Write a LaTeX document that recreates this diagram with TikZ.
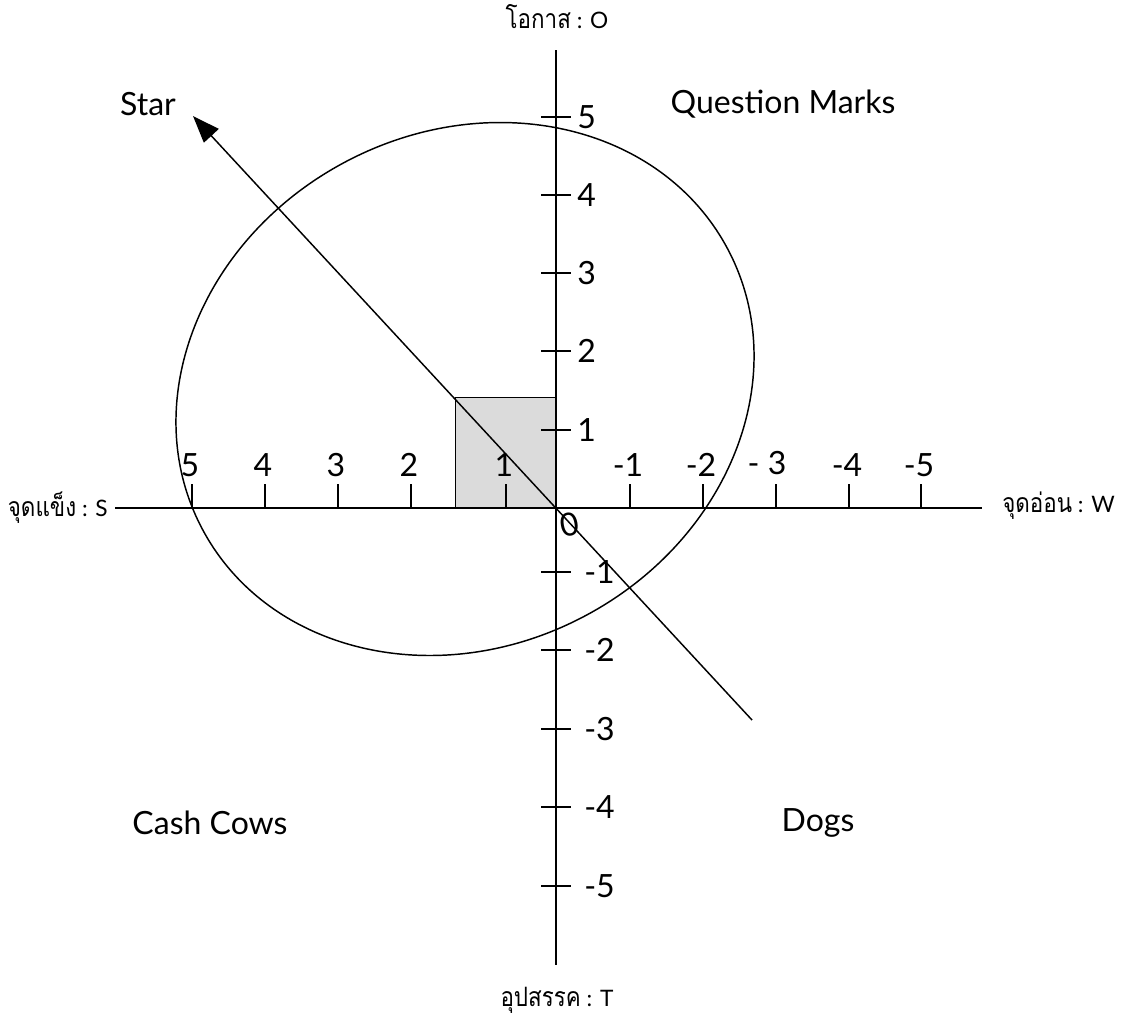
\documentclass[tikz,border=0pt]{standalone}
\usepackage{fontspec}
\setmainfont{Lato}
\newfontfamily\thaifont[Script=Thai, FakeStretch=0.84]{Loma}
\usetikzlibrary{arrows.meta}
\newcommand{\thaitext}[1]{{\thaifont\fontsize{20}{22}\selectfont #1}}
\begin{document}
\begin{tikzpicture}[x=0.75pt,y=-0.75pt,
  ln/.style={line width=1.1pt},
  big/.style={font=\fontsize{24}{28}\selectfont, inner sep=0pt},
  num/.style={font=\fontsize{24}{28}\selectfont, inner sep=0pt},
  thai/.style={font=\fontsize{17}{20}\selectfont, inner sep=0pt}]
\useasboundingbox (0,0) rectangle (1126,1026);
% gray square
\node[draw, ln, fill=black!14, minimum width=101*0.75pt, minimum height=110*0.75pt, inner sep=0pt, anchor=south west] (sq) at (455,508) {};
% ellipse
\draw[ln, rotate around={28.3:(465,389)}] (465,389) ellipse [x radius=297.7, y radius=256.7];
% axes
\coordinate (L) at (115,508);
\coordinate (R) at (982,508);
\coordinate (T) at (556,50);
\coordinate (B) at (556,965);
\coordinate (O) at (556,508);
\draw[ln] (L) -- (R);
\draw[ln] (T) -- (B);
% horizontal ticks & labels
\foreach \x/\lab in {192/5,265/4,338/3,411/2,506/1,630/-1,703/-2,849/-4,921/-5}{
  \draw[ln] (\x,484) -- (\x,508);
  \node[num] at (\x-2,465) {\lab};
}
\draw[ln] (776,484) -- (776,508);
\node[num] at (767,463) {- 3};
% vertical ticks & labels
\foreach \y/\lab in {117/5,195/4,273/3,351/2,430/1}{
  \draw[ln] (541,\y) -- (571,\y);
  \node[num, anchor=west] at (577,\y) {\lab};
}
\foreach \y/\lab in {572/-1,650/-2,729/-3,807/-4,886/-5}{
  \draw[ln] (541,\y) -- (571,\y);
  \node[num, anchor=west] at (584,\y) {\lab};
}
\node[num, rotate=10] (zero) at (570,525) {0};
% arrow
\coordinate (A1) at (752,720);
\coordinate (A2) at (193,116);
\draw[ln, -{Triangle[length=27*0.75pt, width=20*0.75pt]}] (A1) -- (A2);
% quadrant labels
\node[big] (star) at (148,104) {Star};
\node[big] (qm) at (783,104) {Question Marks};
\node[big] (cc) at (210,823) {Cash Cows};
\node[big] (dogs) at (818,823) {Dogs};
% axis labels
\node[thai] (o) at (557,17) {\thaitext{โอกาส} : O};
\node[thai] (t) at (557,1000) {\thaitext{อุปสรรค} : T};
\node[thai, anchor=east] (s) at (108,508) {\thaitext{จุดแข็ง} : S};
\node[thai, anchor=west] (w) at (1002,506) {\thaitext{จุดอ่อน} : W};
\end{tikzpicture}
\end{document}
